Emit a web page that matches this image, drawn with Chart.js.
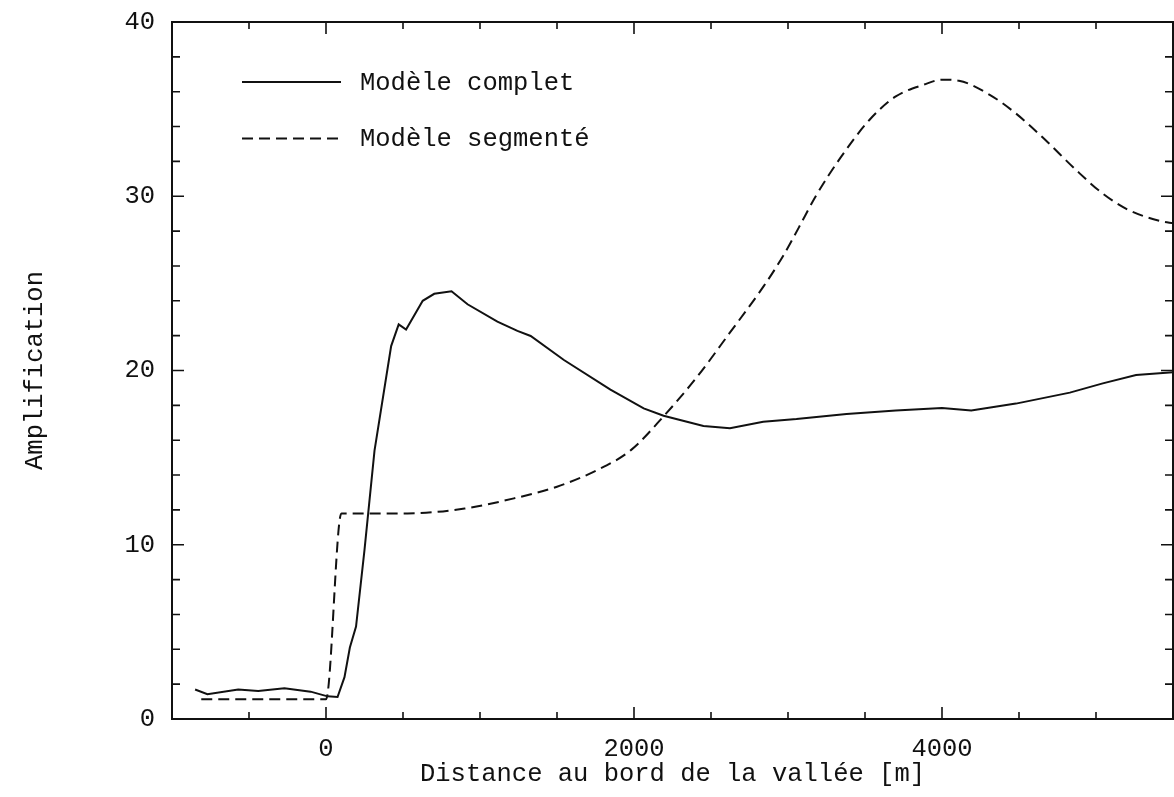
<!DOCTYPE html>
<html>
<head>
<meta charset="utf-8">
<title>Amplification</title>
<script src="https://cdn.jsdelivr.net/npm/chart.js@4/dist/chart.umd.min.js"></script>
<style>
  html, body { margin: 0; padding: 0; background: #fff; }
  #wrap { width: 1174px; height: 797px; }
</style>
</head>
<body>
<div id="wrap"><canvas id="ampChart" width="1174" height="797"></canvas></div>
<script>
// Modèle complet
const distComplet = [-850, -770, -570, -440, -270, -100, 10, 75, 120, 155, 195, 250, 315, 423, 472, 520,
  628, 703, 815, 919, 1113, 1243, 1329, 1545, 1847, 2063, 2192, 2451, 2623, 2839, 3055, 3380,
  3700, 4000, 4190, 4480, 4830, 5044, 5260, 5500];
const ampComplet = [1.69, 1.42, 1.69, 1.61, 1.76, 1.57, 1.30, 1.26, 2.4, 4.1, 5.3, 9.7, 15.4, 21.4, 22.65, 22.35,
  24.0, 24.4, 24.55, 23.8, 22.8, 22.27, 21.98, 20.6, 18.9, 17.83, 17.4, 16.81, 16.68, 17.06, 17.21, 17.5,
  17.7, 17.85, 17.7, 18.1, 18.73, 19.26, 19.74, 19.9];

// Modèle segmenté
const distSegmente = [-810, 0, 100, 270, 530, 900, 1220, 1500, 1760, 1980, 2190, 2410, 2620, 2840, 2970,
  3070, 3180, 3340, 3530, 3700, 3880, 4000, 4110, 4310, 4480, 4670, 4870, 5040, 5210, 5430, 5500];
const ampSegmente = [1.13, 1.13, 11.8, 11.8, 11.8, 12.08, 12.66, 13.33, 14.28, 15.43, 17.35, 19.64, 22.14, 24.81, 26.6,
  28.2, 30.0, 32.2, 34.39, 35.73, 36.4, 36.69, 36.63, 35.82, 34.75, 33.24, 31.51, 30.18, 29.22, 28.55, 28.45];

const xTickLabels = [0, 2000, 4000];
const yTickLabels = [0, 10, 20, 30, 40];

const ink = '#111';
const fontStack = '"Liberation Mono", "DejaVu Sans Mono", monospace';
Chart.defaults.font.family = fontStack;
Chart.defaults.font.size = 25.5;
Chart.defaults.color = ink;

const toPoints = (xs, ys) => xs.map((x, i) => ({ x: x, y: ys[i] }));

// frame with inward tick marks on all four sides
const frameTicks = {
  id: 'frameTicks',
  afterDatasetsDraw(chart) {
    const { ctx, chartArea: a, scales: { x, y } } = chart;
    ctx.save();
    ctx.strokeStyle = ink;
    ctx.lineWidth = 2;
    ctx.strokeRect(a.left, a.top, a.right - a.left, a.bottom - a.top);
    ctx.lineWidth = 1.6;
    ctx.beginPath();
    x.ticks.forEach(t => {
      const px = x.getPixelForValue(t.value);
      const len = xTickLabels.includes(t.value) ? 12 : 7;
      ctx.moveTo(px, a.bottom); ctx.lineTo(px, a.bottom - len);
      ctx.moveTo(px, a.top); ctx.lineTo(px, a.top + len);
    });
    y.ticks.forEach(t => {
      const py = y.getPixelForValue(t.value);
      const len = yTickLabels.includes(t.value) ? 12 : 8;
      ctx.moveTo(a.left, py); ctx.lineTo(a.left + len, py);
      ctx.moveTo(a.right, py); ctx.lineTo(a.right - len, py);
    });
    ctx.stroke();
    ctx.restore();
  }
};

// legend drawn inside the plot, upper left
const insideLegend = {
  id: 'insideLegend',
  afterDatasetsDraw(chart) {
    const { ctx } = chart;
    ctx.save();
    ctx.font = '25.5px ' + fontStack;
    ctx.textBaseline = 'middle';
    ctx.fillStyle = ink;
    chart.data.datasets.forEach((ds, i) => {
      const yy = 82 + i * 56.5;
      ctx.strokeStyle = ds.borderColor;
      ctx.lineWidth = ds.borderWidth;
      ctx.setLineDash(ds.borderDash || []);
      ctx.beginPath();
      ctx.moveTo(242, yy);
      ctx.lineTo(341, yy);
      ctx.stroke();
      ctx.fillText(ds.label, 360, yy + 1);
    });
    ctx.restore();
  }
};

new Chart(document.getElementById('ampChart'), {
  type: 'scatter',
  data: {
    datasets: [
      {
        label: 'Modèle complet',
        data: toPoints(distComplet, ampComplet),
        showLine: true,
        borderColor: ink,
        borderWidth: 2,
        pointRadius: 0,
        tension: 0
      },
      {
        label: 'Modèle segmenté',
        data: toPoints(distSegmente, ampSegmente),
        showLine: true,
        borderColor: ink,
        borderWidth: 2,
        borderDash: [11, 6],
        pointRadius: 0,
        cubicInterpolationMode: 'monotone'
      }
    ]
  },
  options: {
    responsive: false,
    animation: false,
    devicePixelRatio: 1,
    layout: { padding: { top: 22, right: 1, left: 0, bottom: 0 } },
    plugins: {
      legend: { display: false },
      tooltip: { enabled: false }
    },
    scales: {
      x: {
        type: 'linear',
        min: -1000,
        max: 5500,
        grid: { display: false, drawTicks: false },
        border: { display: false },
        ticks: {
          stepSize: 500,
          autoSkip: false,
          maxRotation: 0,
          padding: 15,
          callback: v => (xTickLabels.includes(v) ? String(v) : '')
        },
        title: {
          display: true,
          text: 'Distance au bord de la vallée [m]',
          padding: { top: 0, bottom: 7 }
        },
        afterFit: s => {
          s.height = 78;
          s.paddingLeft = 0;
          s.paddingRight = 0;
        }
      },
      y: {
        min: 0,
        max: 40,
        grid: { display: false, drawTicks: false },
        border: { display: false },
        ticks: {
          stepSize: 2,
          autoSkip: false,
          padding: 17,
          callback: v => (yTickLabels.includes(v) ? String(v) : '')
        },
        title: {
          display: true,
          text: 'Amplification',
          padding: { top: 20, bottom: 0 }
        },
        afterFit: s => {
          s.width = 172;
          s.paddingTop = 0;
          s.paddingBottom = 0;
        }
      }
    }
  },
  plugins: [frameTicks, insideLegend]
});
</script>
</body>
</html>
